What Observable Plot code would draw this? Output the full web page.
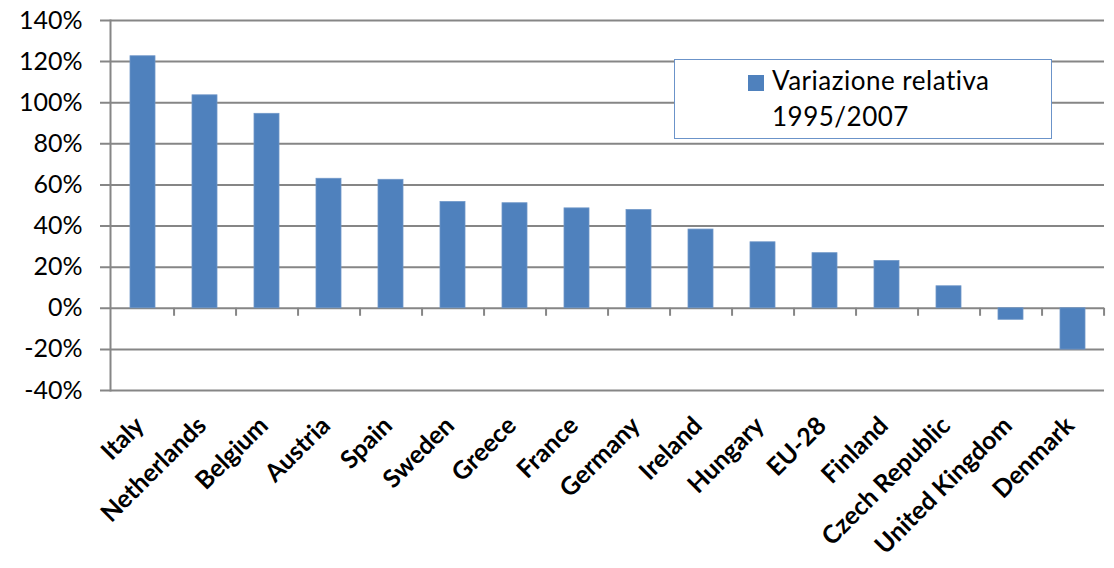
<!DOCTYPE html>
<html>
<head>
<meta charset="utf-8">
<script src="https://cdn.jsdelivr.net/npm/d3@7"></script>
<script src="https://cdn.jsdelivr.net/npm/@observablehq/plot@0.6"></script>
<style>
  html, body { margin: 0; padding: 0; background: #fff; }
  #wrap { position: relative; width: 1114px; height: 568px; font-family: Lato, "Open Sans", sans-serif; }
  #legend { position: absolute; left: 674px; top: 59px; width: 376px; height: 78px;
            border: 1.5px solid #6b93c9; background: #fff; box-sizing: content-box; }
  #legend .sw { position: absolute; left: 73px; top: 15px; width: 16px; height: 16px; background: #4f81bd; }
  #legend .tx { position: absolute; left: 97px; top: 2px; font-size: 26px; letter-spacing: 0.5px; line-height: 36px; color: #000; white-space: nowrap; }
</style>
</head>
<body>
<div id="wrap"></div>
<script>
const categories = ["Italy", "Netherlands", "Belgium", "Austria", "Spain", "Sweden", "Greece", "France",
  "Germany", "Ireland", "Hungary", "EU-28", "Finland", "Czech Republic", "United Kingdom", "Denmark"];
const values = [122.6, 103.6, 94.6, 63.0, 62.5, 51.7, 51.1, 48.6, 47.8, 38.3, 32.1, 26.8, 23.0, 10.7, -5.6, -20.1];
const yTicks = [-40, -20, 0, 20, 40, 60, 80, 100, 120, 140];
const legendLines = ["Variazione relativa", "1995/2007"];

const data = categories.map((c, i) => ({cat: c, value: values[i]}));

const W = 1114, H = 568, ML = 110, MR = 10, MT = 20, MB = 178;
const step = (W - ML - MR) / categories.length;
const gray = "#868686";

const chart = Plot.plot({
  width: W, height: H,
  marginLeft: ML, marginRight: MR, marginTop: MT, marginBottom: MB,
  style: {fontFamily: "Lato, 'Open Sans', sans-serif", color: "#000", background: "#fff"},
  x: {domain: categories, paddingInner: 0.6, paddingOuter: 0.3, label: null},
  y: {domain: [-40, 140], label: null},
  marks: [
    Plot.ruleY(yTicks, {stroke: gray, strokeWidth: 2, insetLeft: -10}),
    Plot.frame({anchor: "left", stroke: gray, strokeWidth: 2}),
    Plot.ruleX(categories, {x: d => d, dx: step / 2, y1: 0, y2: 0, insetBottom: -8, stroke: gray, strokeWidth: 2}),
    Plot.barY(data, {x: "cat", y: "value", fill: "#4f81bd", stroke: "#6f97c8", strokeWidth: 0.8}),
    Plot.axisY({ticks: yTicks, tickSize: 0, tickPadding: 28, tickFormat: d => `${d}%`, fontSize: 25, fill: "#000"}),
    Plot.axisX({tickRotate: -45, tickSize: 0, tickPadding: 14, fontSize: 25, fontWeight: "bold", fill: "#000", dx: -3, dy: 17})
  ]
});

const wrap = document.getElementById("wrap");
wrap.appendChild(chart);
const lg = document.createElement("div");
lg.id = "legend";
lg.innerHTML = `<div class="sw"></div><div class="tx">${legendLines.join("<br>")}</div>`;
wrap.appendChild(lg);
</script>
</body>
</html>
